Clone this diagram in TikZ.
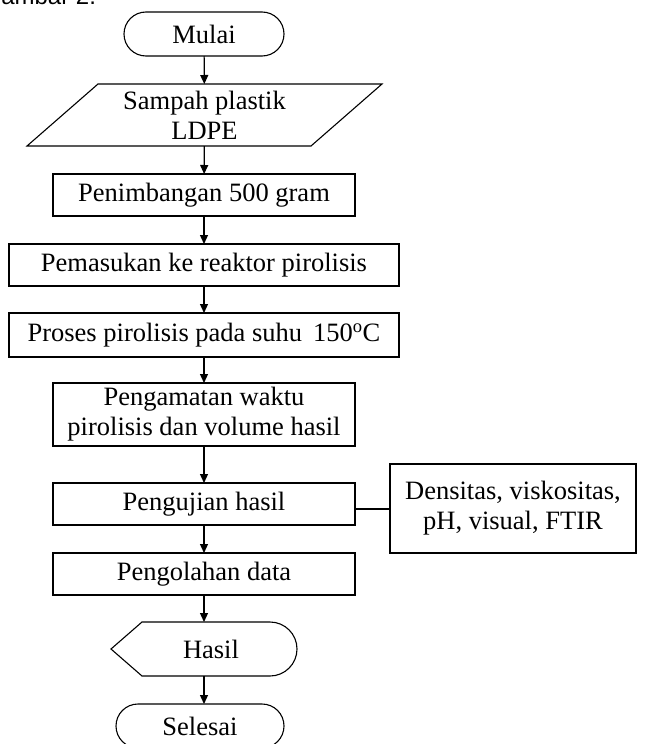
\documentclass[tikz,border=0pt]{standalone}
\usepackage{fontspec}
\setmainfont{Liberation Serif}
\newfontfamily\capfont{Liberation Sans}
\usepackage{tikz}
\usetikzlibrary{shapes.misc,arrows.meta}

\begin{document}
\begin{tikzpicture}[x=1pt,y=-1pt,
  every node/.style={inner sep=0pt, outer sep=0pt, align=center,
    font=\fontsize{26.5}{30}\selectfont},
  box/.style={draw, line width=1.1pt, minimum width=302pt, minimum height=42pt},
  term/.style={draw, line width=1.1pt, rounded rectangle, minimum height=44pt},
  flow/.style={line width=1.2pt, -{Triangle[length=9pt,width=8pt]}}]
\useasboundingbox (0,0) rectangle (646,744);

\node[anchor=base east, font=\capfont\fontsize{24}{28}\selectfont] (cap) at (96,5) {Gambar 2.};

\node[term, minimum width=160pt] (mulai) at (204,34) {Mulai};

\node[minimum width=284pt, minimum height=62pt] (sampah) at (204.5,115) {Sampah plastik\\LDPE};
\draw[line width=1.1pt] ([xshift=35.5pt]sampah.north west) -- ([xshift=35.5pt]sampah.north east)
  -- ([xshift=-35.5pt]sampah.south east) -- ([xshift=-35.5pt]sampah.south west) -- cycle;

\node[box] (timbang) at (204,195) {Penimbangan 500 gram};
\node[box, minimum width=390pt] (masuk) at (204,265) {Pemasukan ke reaktor pirolisis};
\node[box, minimum width=390pt, minimum height=44pt] (proses) at (204,335) {Proses pirolisis pada suhu \,150\textsuperscript{o}C};
\node[box, minimum height=63pt] (amati) at (204,414.5) {Pengamatan waktu\\pirolisis dan volume hasil};
\node[box] (uji) at (204,504) {Pengujian hasil};
\node[box] (olah) at (204,574) {Pengolahan data};

\node[box, minimum width=246pt, minimum height=89pt] (ket) at (513,508.5) {Densitas, viskositas,\\pH, visual, FTIR};

% display shape
\node[minimum width=186pt, minimum height=54pt] (hasil) at (204,649) {\hspace*{14pt}Hasil};
\draw[line width=1.1pt] (hasil.west) -- ([xshift=31pt]hasil.north west) -- ([xshift=-27pt]hasil.north east)
  arc[start angle=90, end angle=-90, radius=27pt] -- ([xshift=31pt]hasil.south west) -- cycle;

\node[term, minimum width=168pt] (selesai) at (200,726) {Selesai};

\draw[flow] (mulai) -- (sampah);
\draw[flow] (sampah) -- (timbang);
\draw[flow] (timbang) -- (masuk);
\draw[flow] (masuk) -- (proses);
\draw[flow] (proses) -- (amati);
\draw[flow] (amati) -- (uji);
\draw[flow] (uji) -- (olah);
\draw[flow] (olah) -- (hasil);
\draw[flow] (hasil.south) -- (hasil.south |- selesai.north);
\draw[line width=1.1pt] (uji.east) ++(0,5) -- (ket.west |- 0,509);
\end{tikzpicture}
\end{document}
